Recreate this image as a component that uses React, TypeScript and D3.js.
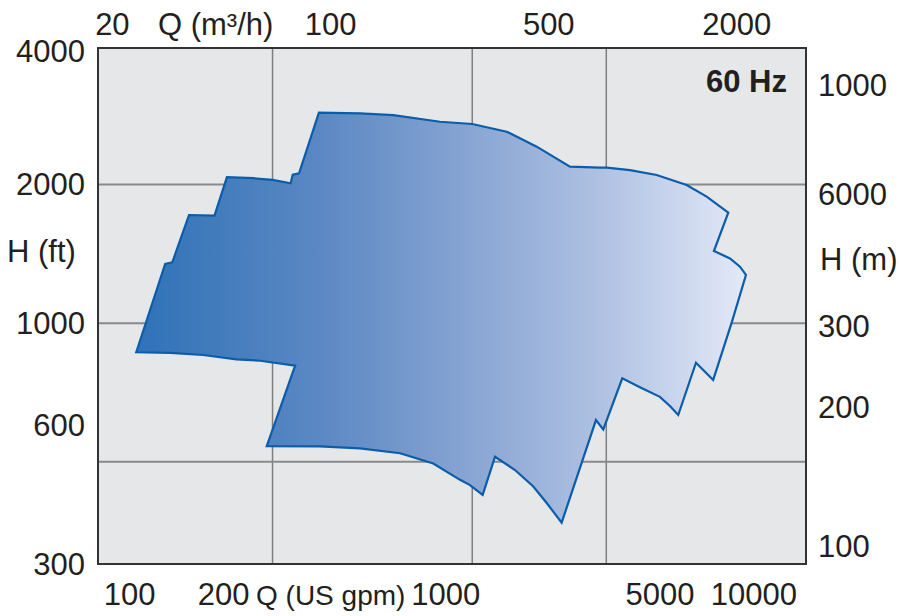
import React from 'react';
import * as d3 from 'd3';

const W = 900;
const H = 616;
const FT_PER_M = 3.2808;
const GPM_PER_M3H = 4.4029;

// performance range outline, [Q (US gpm), H (ft)], clockwise from the lower left corner
const outline: [number, number][] = [
  [105, 865], [130, 1345], [137, 1356], [155, 1718], [187, 1712], [205, 2075],
  [249, 2065], [287, 2047], [328, 2013], [333, 2102], [349, 2116], [404, 2865],
  [547, 2857], [699, 2832], [987, 2739], [1252, 2708], [1614, 2606], [1780, 2521],
  [2014, 2418], [2574, 2188], [3212, 2177], [3374, 2177], [4007, 2151], [4879, 2099],
  [6086, 1996], [7056, 1883], [8275, 1738], [7443, 1435], [8379, 1383], [9020, 1327],
  [9427, 1273], [8485, 1003], [7404, 753], [6520, 821], [5721, 632], [5381, 661],
  [4997, 692], [4312, 726], [3786, 759], [3291, 588], [3118, 616], [2421, 369],
  [2168, 407], [1964, 442], [1716, 480], [1481, 513], [1352, 424], [1231, 445],
  [1144, 457], [939, 496], [735, 522], [547, 535], [407, 540], [275, 541],
  [339, 809], [262, 829], [220, 835], [172, 853], [135, 862],
];

const gridQ = [287, 1252, 3365];
const gridH = [500, 1000, 2000];
const leftTicks = [300, 600, 1000, 2000, 4000];
const rightTicks = [100, 200, 300, 600, 1000];
const rightTickLabels = ['100', '200', '300', '6000', '1000'];
const topTicks = [20, 100, 500, 2000];
const bottomTicks = [100, 200, 1000, 5000, 10000];

const font = '"Liberation Sans", Arial, Helvetica, sans-serif';
const ink = '#231f20';

export default function App() {
  const left = 98, right = 806, top = 48, bottom = 564;

  const x = d3.scaleLog().domain([79.2, 14680]).range([left, right]);
  const y = d3.scaleLog().domain([300, 3960]).range([bottom, top]);

  const line = d3.line<[number, number]>()
    .x(d => x(d[0]))
    .y(d => y(d[1]))
    .curve(d3.curveLinearClosed);

  const fs = 31;

  return (
    <svg width={W} height={H} style={{ position: 'absolute', left: 0, top: 0, background: '#fff' }}
      fontFamily={font} fill={ink}>
      <defs>
        <linearGradient id="rangeFill" gradientUnits="userSpaceOnUse"
          x1={x(105)} x2={x(9427)} y1={0} y2={0}>
          <stop offset="0" stopColor="#2f72b7" />
          <stop offset="0.3" stopColor="#5b88c3" />
          <stop offset="0.55" stopColor="#88a5d3" />
          <stop offset="0.78" stopColor="#b3c4e4" />
          <stop offset="1" stopColor="#e3e9f7" />
        </linearGradient>
      </defs>

      {/* plot background */}
      <rect x={left} y={top} width={right - left} height={bottom - top} fill="#e6e7e9" />

      {/* grid */}
      {gridQ.map(q => (
        <line key={'gq' + q} x1={x(q)} x2={x(q)} y1={top} y2={bottom} stroke="#7f7f7f" strokeWidth={1.5} />
      ))}
      {gridH.map(h => (
        <line key={'gh' + h} x1={left} x2={right} y1={y(h)} y2={y(h)} stroke="#8a8a8a" strokeWidth={2} />
      ))}

      {/* operating range */}
      <path d={line(outline) || ''} fill="url(#rangeFill)" stroke="#0a5dab" strokeWidth={2.2} strokeLinejoin="miter" />

      {/* frame */}
      <rect x={left} y={top} width={right - left} height={bottom - top} fill="none" stroke="#333" strokeWidth={2} />

      <text x={787} y={92} textAnchor="end" fontWeight="bold" fontSize={fs}>60 Hz</text>

      {/* left axis, feet */}
      {leftTicks.map(v => (
        <text key={'l' + v} x={85} y={Math.max(y(v), top + 3)} dy="0.35em" textAnchor="end" fontSize={fs}>{v}</text>
      ))}
      <text x={7} y={251} dy="0.35em" fontSize={fs}>H (ft)</text>

      {/* right axis, metres */}
      {rightTicks.map((v, i) => (
        <text key={'r' + v} x={818} y={y(v * FT_PER_M) + (v === 600 ? 6 : 0)} dy="0.35em" fontSize={fs}>{rightTickLabels[i]}</text>
      ))}
      <text x={820} y={259} dy="0.35em" fontSize={fs}>H (m)</text>

      {/* top axis, m³/h */}
      {topTicks.map(v => (
        <text key={'t' + v} x={x(v * GPM_PER_M3H)} y={35} textAnchor="middle" fontSize={fs}>{v}</text>
      ))}
      <text x={158} y={35} fontSize={fs}>Q (m³/h)</text>

      {/* bottom axis, US gpm */}
      {bottomTicks.map(v => (
        <text key={'b' + v} x={x(v) + (v === 1000 ? 4 : 0)} y={605} textAnchor="middle" fontSize={fs}>{v}</text>
      ))}
      <text x={256} y={605} fontSize={28}>Q (US gpm)</text>
    </svg>
  );
}
